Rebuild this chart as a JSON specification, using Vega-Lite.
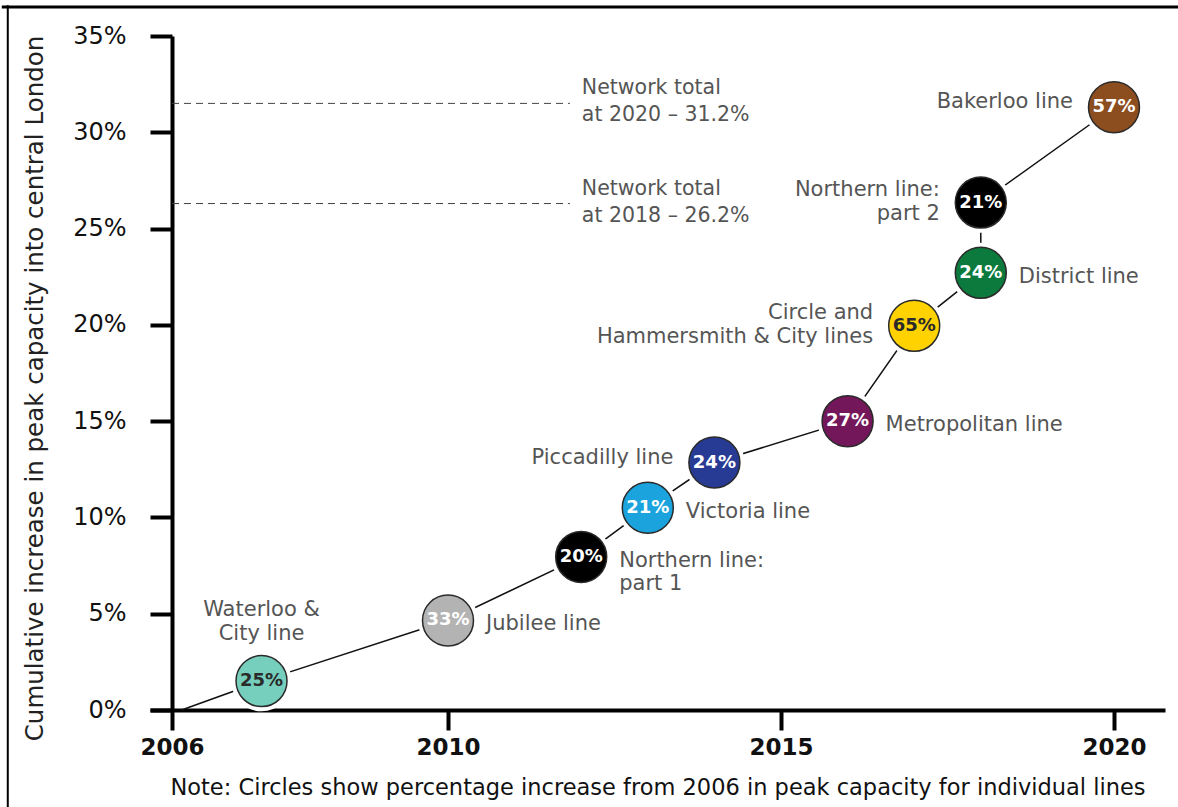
{
  "$schema": "https://vega.github.io/schema/vega-lite/v6.json",
  "autosize": "none",
  "width": 1015,
  "height": 674,
  "padding": {"left": 150, "top": 36, "right": 13, "bottom": 97},
  "background": "white",
  "config": {"view": {"stroke": null}, "font": "DejaVu Sans"},
  "datasets": {
    "lines": [
      {"line": "Start", "label": "", "year": 2006, "cum": 0, "pct": ""},
      {"line": "Waterloo & City", "label": "Waterloo &\nCity line", "year": 2007.2, "cum": 1.5, "pct": "25%"},
      {"line": "Jubilee", "label": "Jubilee line", "year": 2010, "cum": 4.65, "pct": "33%"},
      {"line": "Northern 1", "label": "Northern line:\npart 1", "year": 2012, "cum": 7.95, "pct": "20%"},
      {"line": "Victoria", "label": "Victoria line", "year": 2013, "cum": 10.5, "pct": "21%"},
      {"line": "Piccadilly", "label": "Piccadilly line", "year": 2014, "cum": 12.85, "pct": "24%"},
      {"line": "Metropolitan", "label": "Metropolitan line", "year": 2016, "cum": 15.0, "pct": "27%"},
      {"line": "Circle and H&C", "label": "Circle and\nHammersmith & City lines", "year": 2017, "cum": 19.95, "pct": "65%"},
      {"line": "District", "label": "District line", "year": 2018, "cum": 22.7, "pct": "24%"},
      {"line": "Northern 2", "label": "Northern line:\npart 2", "year": 2018, "cum": 26.35, "pct": "21%"},
      {"line": "Bakerloo", "label": "Bakerloo line", "year": 2020, "cum": 31.3, "pct": "57%"}
    ],
    "totals": [
      {"level": 31.5, "from": 2005.856, "to": 2011.83, "text": "Network total\nat 2020 – 31.2%"},
      {"level": 26.3, "from": 2005.856, "to": 2011.83, "text": "Network total\nat 2018 – 26.2%"}
    ]
  },
  "layer": [
    {
      "data": {"name": "lines"},
      "mark": {"type": "line", "color": "#111", "strokeWidth": 1.5},
      "encoding": {
        "x": {
          "field": "year", "type": "quantitative",
          "scale": {"domain": [2005.5255, 2020.766], "nice": false, "zero": false},
          "axis": {
            "values": [2005.856, 2010, 2015, 2020], "format": "d",
            "domainColor": "black", "domainWidth": 4,
            "tickColor": "black", "tickWidth": 4, "tickSize": 20,
            "labelFont": "DejaVu Sans", "labelFontSize": 23, "labelFontWeight": "bold", "labelColor": "#111",
            "labelPadding": 6, "grid": false,
            "title": "Note: Circles show percentage increase from 2006 in peak capacity for individual lines",
            "titleFont": "DejaVu Sans", "titleFontSize": 22.5, "titleFontWeight": "normal", "titleColor": "#111",
            "titlePadding": 17
          }
        },
        "y": {
          "field": "cum", "type": "quantitative",
          "scale": {"domain": [0, 35], "nice": false},
          "axis": {
            "values": [0, 5, 10, 15, 20, 25, 30, 35],
            "labelExpr": "datum.value + '%'",
            "offset": -22,
            "domainColor": "black", "domainWidth": 4,
            "tickColor": "black", "tickWidth": 4, "tickSize": 22,
            "labelFont": "DejaVu Sans", "labelFontSize": 24, "labelColor": "#111",
            "labelPadding": 24, "grid": false,
            "title": "Cumulative increase in peak capacity into central London",
            "titleFont": "DejaVu Sans", "titleFontSize": 24.5, "titleFontWeight": "normal", "titleColor": "#222",
            "titlePadding": 25,
            "titleY": 352
          }
        },
        "order": {"field": "cum", "type": "quantitative"}
      }
    },
    {
      "data": {"values": [{"a": 1}]},
      "mark": {"type": "rule", "color": "black", "strokeWidth": 3, "clip": false},
      "encoding": {
        "x": {"datum": 2003.3, "type": "quantitative"},
        "x2": {"datum": 2021.2},
        "y": {"datum": 36.5, "type": "quantitative"}
      }
    },
    {
      "data": {"values": [{"a": 1}]},
      "mark": {"type": "rule", "color": "black", "strokeWidth": 2, "clip": false},
      "encoding": {
        "x": {"datum": 2003.39, "type": "quantitative"},
        "y": {"datum": -5.1, "type": "quantitative"},
        "y2": {"datum": 36.6}
      }
    },
    {
      "data": {"name": "totals"},
      "mark": {"type": "rule", "color": "#444", "strokeWidth": 1, "strokeDash": [7, 5]},
      "encoding": {
        "x": {"field": "from", "type": "quantitative"},
        "x2": {"field": "to"},
        "y": {"field": "level", "type": "quantitative"}
      }
    },
    {
      "data": {"name": "totals"},
      "mark": {"type": "text", "align": "left", "baseline": "middle", "lineBreak": "\n", "lineHeight": 27, "font": "DejaVu Sans", "fontSize": 20.5, "color": "#555", "dx": 12, "dy": -15},
      "encoding": {
        "x": {"field": "to", "type": "quantitative"},
        "y": {"field": "level", "type": "quantitative"},
        "text": {"field": "text"}
      }
    },
    {
      "data": {"name": "lines"},
      "transform": [{"filter": "datum.line !== 'Start'"}],
      "mark": {"type": "circle", "color": "white", "opacity": 1, "size": 3650},
      "encoding": {
        "x": {"field": "year", "type": "quantitative"},
        "y": {"field": "cum", "type": "quantitative"}
      }
    },
    {
      "data": {"name": "lines"},
      "transform": [{"filter": "datum.line !== 'Start'"}],
      "mark": {"type": "circle", "opacity": 1, "size": 2600, "stroke": "#2a2a2a", "strokeWidth": 1.5},
      "encoding": {
        "x": {"field": "year", "type": "quantitative"},
        "y": {"field": "cum", "type": "quantitative"},
        "color": {
          "field": "line", "type": "nominal", "legend": null,
          "scale": {
            "domain": ["Waterloo & City", "Jubilee", "Northern 1", "Victoria", "Piccadilly", "Metropolitan", "Circle and H&C", "District", "Northern 2", "Bakerloo"],
            "range": ["#76CFBC", "#B3B3B3", "#000000", "#1AA3DD", "#273A94", "#73175A", "#FFD200", "#0B7A3C", "#000000", "#8C4D1F"]
          }
        }
      }
    },
    {
      "data": {"name": "lines"},
      "transform": [{"filter": "datum.line !== 'Start'"}],
      "mark": {"type": "text", "align": "center", "baseline": "middle", "font": "DejaVu Sans", "fontSize": 18, "fontWeight": "bold"},
      "encoding": {
        "x": {"field": "year", "type": "quantitative"},
        "y": {"field": "cum", "type": "quantitative"},
        "text": {"field": "pct"},
        "color": {
          "condition": {"test": "datum.line === 'Waterloo & City' || datum.line === 'Circle and H&C'", "value": "#2a2a2a"},
          "value": "white"
        }
      }
    },
    {
      "data": {"name": "lines"},
      "transform": [{"filter": {"field": "line", "oneOf": ["Jubilee", "Northern 1", "Victoria", "Metropolitan", "District"]}}],
      "mark": {"type": "text", "align": "left", "baseline": "top", "lineBreak": "\n", "lineHeight": 23, "font": "DejaVu Sans", "fontSize": 21, "color": "#555", "dx": 38, "dy": -7},
      "encoding": {
        "x": {"field": "year", "type": "quantitative"},
        "y": {"field": "cum", "type": "quantitative"},
        "text": {"field": "label"}
      }
    },
    {
      "data": {"name": "lines"},
      "transform": [{"filter": {"field": "line", "oneOf": ["Piccadilly", "Bakerloo"]}}],
      "mark": {"type": "text", "align": "right", "baseline": "middle", "font": "DejaVu Sans", "fontSize": 21, "color": "#555", "dx": -41, "dy": -5},
      "encoding": {
        "x": {"field": "year", "type": "quantitative"},
        "y": {"field": "cum", "type": "quantitative"},
        "text": {"field": "label"}
      }
    },
    {
      "data": {"name": "lines"},
      "transform": [{"filter": {"field": "line", "oneOf": ["Circle and H&C", "Northern 2"]}}],
      "mark": {"type": "text", "align": "right", "baseline": "middle", "lineBreak": "\n", "lineHeight": 24, "font": "DejaVu Sans", "fontSize": 21, "color": "#555", "dx": -41, "dy": -13},
      "encoding": {
        "x": {"field": "year", "type": "quantitative"},
        "y": {"field": "cum", "type": "quantitative"},
        "text": {"field": "label"}
      }
    },
    {
      "data": {"name": "lines"},
      "transform": [{"filter": {"field": "line", "oneOf": ["Waterloo & City"]}}],
      "mark": {"type": "text", "align": "center", "baseline": "middle", "lineBreak": "\n", "lineHeight": 24, "font": "DejaVu Sans", "fontSize": 21, "color": "#555", "dy": -71},
      "encoding": {
        "x": {"field": "year", "type": "quantitative"},
        "y": {"field": "cum", "type": "quantitative"},
        "text": {"field": "label"}
      }
    }
  ]
}
